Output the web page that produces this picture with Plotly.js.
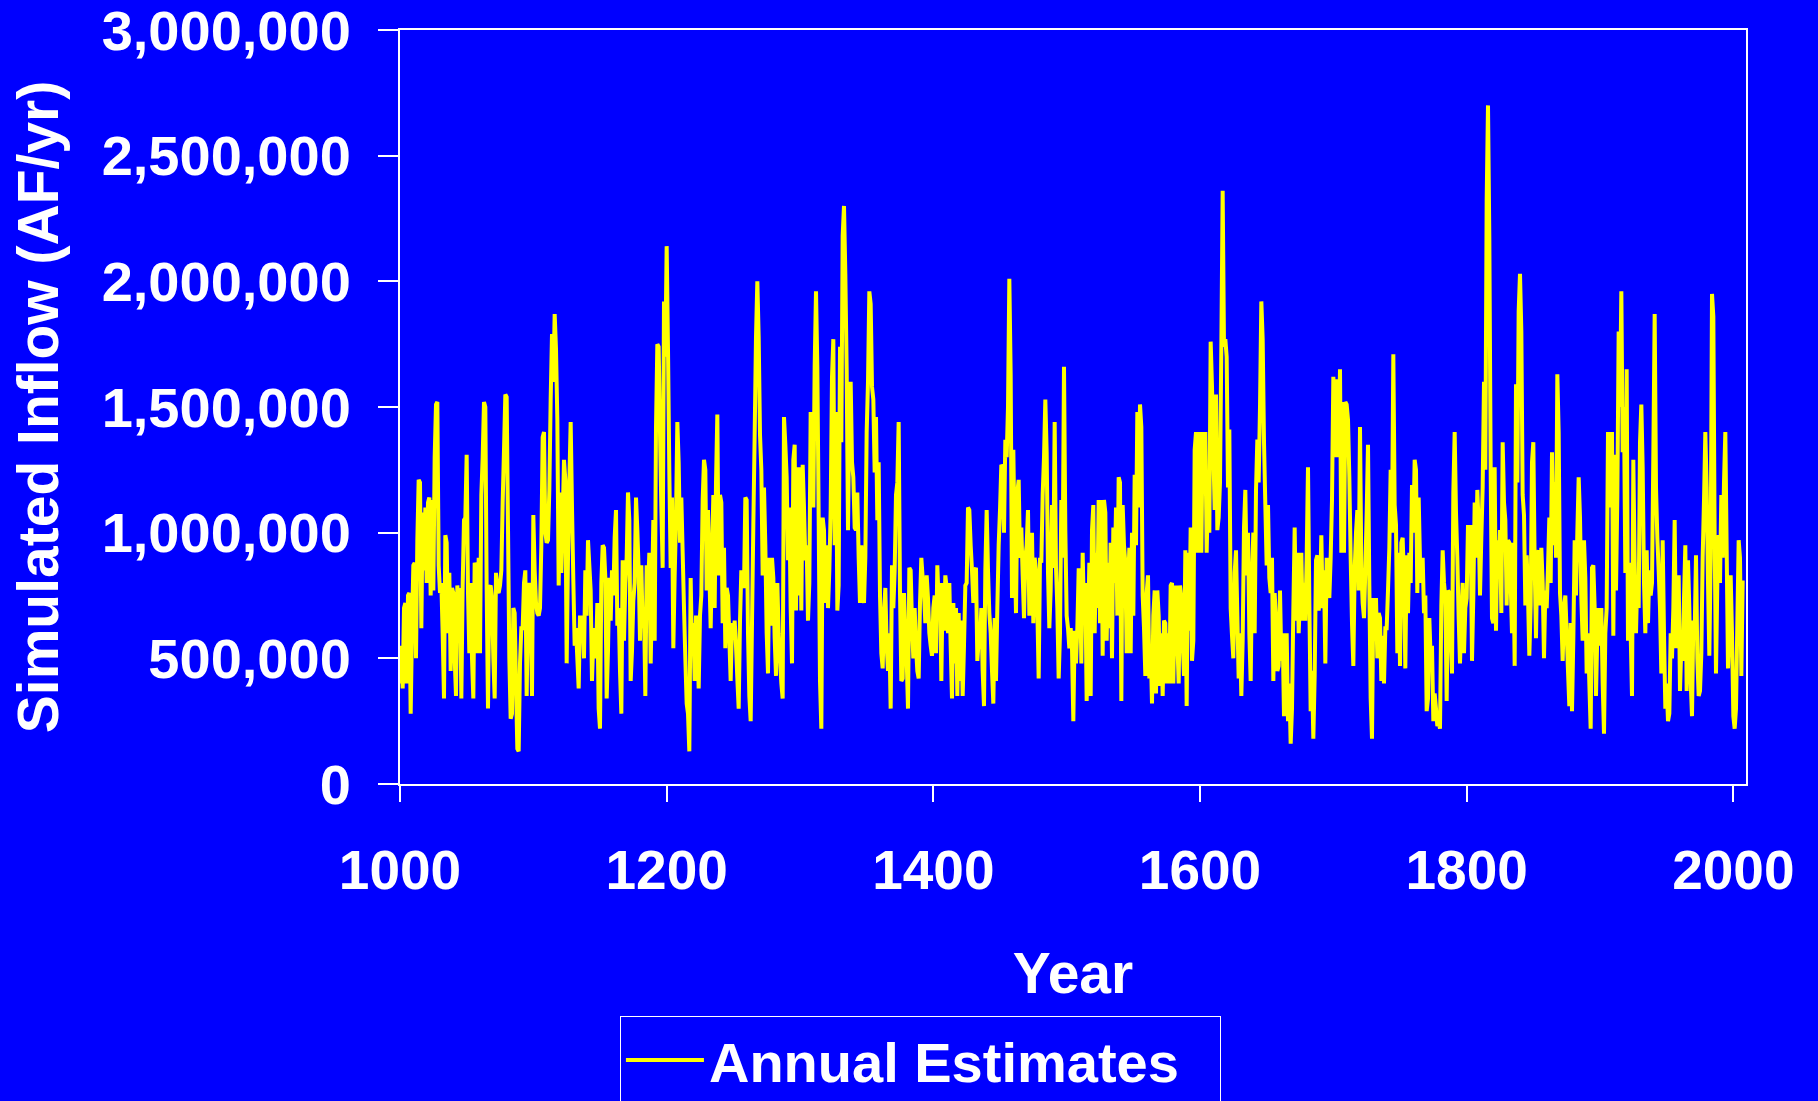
<!DOCTYPE html>
<html><head><meta charset="utf-8">
<script src="https://cdn.plot.ly/plotly-3.0.1.min.js"></script>
<style>html,body{margin:0;padding:0;background:#0000FF;}#chart{width:1818px;height:1101px;}</style>
</head><body><div id="chart"></div>
<script>
const startYear = 1000;
const flow1000s = [
400e3,550e3,380e3,700e3,720e3,400e3,750e3,760e3,280e3,620e3,
870e3,880e3,500e3,970e3,1210e3,1200e3,620e3,1080e3,850e3,1100e3,
800e3,1120e3,1140e3,750e3,1130e3,770e3,1300e3,1510e3,1520e3,870e3,
760e3,800e3,600e3,340e3,990e3,960e3,600e3,840e3,450e3,780e3,
760e3,500e3,350e3,790e3,660e3,780e3,340e3,790e3,1050e3,1060e3,
1310e3,760e3,520e3,800e3,500e3,340e3,880e3,860e3,520e3,900e3,
520e3,1150e3,1300e3,1520e3,1500e3,770e3,300e3,780e3,790e3,740e3,
500e3,340e3,840e3,770e3,760e3,790e3,850e3,1120e3,1330e3,1550e3,
1540e3,1020e3,500e3,260e3,280e3,700e3,680e3,400e3,140e3,130e3,
480e3,620e3,620e3,800e3,850e3,350e3,720e3,800e3,680e3,350e3];
const flow1100s = [
1070e3,850e3,720e3,680e3,670e3,700e3,950e3,1380e3,1400e3,1000e3,
960e3,970e3,1170e3,1530e3,1790e3,1600e3,1870e3,1730e3,1450e3,790e3,
1160e3,840e3,1050e3,1290e3,1210e3,480e3,900e3,1200e3,1440e3,1100e3,
810e3,550e3,620e3,500e3,380e3,670e3,620e3,670e3,500e3,850e3,
670e3,970e3,870e3,770e3,410e3,580e3,620e3,500e3,720e3,300e3,
220e3,800e3,950e3,940e3,820e3,340e3,530e3,820e3,650e3,850e3,
750e3,980e3,1090e3,630e3,700e3,450e3,280e3,890e3,570e3,800e3,
900e3,1160e3,1050e3,410e3,530e3,730e3,800e3,1140e3,1010e3,850e3,
570e3,870e3,620e3,700e3,350e3,870e3,760e3,920e3,480e3,750e3,
1050e3,570e3,1420e3,1750e3,1740e3,1400e3,1100e3,860e3,1920e3,1700e3];
const flow1200s = [
2140e3,1730e3,1240e3,860e3,1140e3,540e3,830e3,1050e3,1440e3,1280e3,
960e3,1140e3,920e3,700e3,500e3,320e3,280e3,130e3,820e3,510e3,
640e3,410e3,670e3,600e3,380e3,670e3,750e3,1130e3,1290e3,1250e3,
770e3,1090e3,850e3,620e3,900e3,1150e3,700e3,1200e3,1470e3,830e3,
1150e3,1120e3,640e3,940e3,540e3,780e3,750e3,580e3,410e3,640e3,
580e3,650e3,550e3,420e3,300e3,650e3,850e3,800e3,780e3,1140e3,
1130e3,600e3,350e3,250e3,640e3,1030e3,1390e3,1780e3,2000e3,1780e3,
1390e3,1250e3,830e3,1180e3,950e3,600e3,440e3,900e3,630e3,900e3,
820e3,580e3,430e3,800e3,600e3,500e3,400e3,340e3,1460e3,1350e3,
1220e3,890e3,1100e3,700e3,480e3,1290e3,1350e3,690e3,1260e3,750e3];
const flow1300s = [
1260e3,690e3,1270e3,1100e3,890e3,950e3,650e3,800e3,1480e3,1400e3,
1100e3,1660e3,1960e3,1660e3,1060e3,410e3,220e3,1060e3,1010e3,720e3,
950e3,700e3,850e3,1090e3,1620e3,1770e3,950e3,1480e3,690e3,790e3,
1740e3,1360e3,2180e3,2300e3,2030e3,1650e3,1010e3,1490e3,1600e3,1280e3,
1220e3,1020e3,1010e3,1160e3,900e3,720e3,950e3,820e3,720e3,900e3,
1400e3,1600e3,1960e3,1910e3,1580e3,1530e3,1240e3,1460e3,1050e3,1280e3,
750e3,520e3,460e3,680e3,780e3,550e3,450e3,600e3,300e3,870e3,
700e3,850e3,1150e3,1200e3,1440e3,760e3,410e3,420e3,760e3,590e3,
500e3,300e3,860e3,850e3,640e3,500e3,700e3,550e3,450e3,420e3,
720e3,900e3,820e3,760e3,640e3,830e3,740e3,600e3,550e3,510e3];
const flow1400s = [
700e3,750e3,520e3,870e3,720e3,800e3,410e3,800e3,610e3,830e3,
780e3,600e3,800e3,550e3,340e3,720e3,480e3,700e3,350e3,680e3,
410e3,650e3,350e3,550e3,790e3,800e3,1100e3,1090e3,950e3,850e3,
720e3,850e3,860e3,490e3,570e3,560e3,700e3,450e3,310e3,850e3,
1090e3,850e3,680e3,600e3,450e3,320e3,660e3,410e3,700e3,950e3,
1090e3,1270e3,1260e3,1000e3,1370e3,1300e3,1500e3,2010e3,1630e3,740e3,
1330e3,960e3,680e3,1160e3,1210e3,900e3,1020e3,830e3,660e3,900e3,
950e3,1090e3,670e3,950e3,1000e3,640e3,900e3,850e3,700e3,420e3,
900e3,880e3,1150e3,1300e3,1530e3,1320e3,840e3,620e3,770e3,1110e3,
860e3,1440e3,860e3,700e3,420e3,600e3,1130e3,900e3,1660e3,1010e3];
const flow1500s = [
670e3,620e3,540e3,620e3,540e3,250e3,610e3,480e3,620e3,850e3,
850e3,480e3,920e3,670e3,800e3,330e3,600e3,880e3,350e3,1010e3,
1110e3,600e3,920e3,700e3,1130e3,640e3,1130e3,510e3,1130e3,1080e3,
570e3,880e3,620e3,960e3,500e3,1020e3,800e3,1100e3,670e3,1220e3,
1200e3,330e3,1110e3,950e3,880e3,520e3,770e3,940e3,520e3,1000e3,
670e3,1230e3,950e3,1480e3,1100e3,1510e3,1420e3,750e3,620e3,430e3,
760e3,830e3,420e3,550e3,320e3,670e3,770e3,360e3,770e3,670e3,
390e3,600e3,350e3,650e3,640e3,400e3,600e3,400e3,790e3,800e3,
400e3,740e3,790e3,570e3,400e3,790e3,740e3,570e3,430e3,930e3,
310e3,920e3,610e3,1020e3,490e3,570e3,1330e3,1400e3,920e3,1260e3];
const flow1600s = [
1400e3,920e3,1400e3,1260e3,1400e3,920e3,1180e3,1000e3,1760e3,1580e3,
1330e3,1090e3,1550e3,1010e3,1060e3,1200e3,1740e3,2360e3,1740e3,1770e3,
1700e3,1180e3,1410e3,700e3,590e3,500e3,840e3,930e3,670e3,420e3,
600e3,350e3,570e3,1020e3,1170e3,830e3,1000e3,600e3,410e3,830e3,
1000e3,600e3,1170e3,1370e3,1200e3,1500e3,1920e3,1770e3,1360e3,1110e3,
870e3,1110e3,820e3,760e3,900e3,410e3,760e3,650e3,450e3,470e3,
770e3,490e3,600e3,270e3,450e3,600e3,250e3,400e3,160e3,300e3,
690e3,1020e3,650e3,920e3,600e3,750e3,920e3,650e3,800e3,650e3,
900e3,1260e3,730e3,290e3,450e3,180e3,430e3,890e3,910e3,690e3,
750e3,990e3,700e3,850e3,480e3,900e3,800e3,740e3,900e3,1130e3];
const flow1700s = [
1620e3,1500e3,1300e3,1610e3,1300e3,1650e3,920e3,1520e3,920e3,1520e3,
1510e3,1450e3,1220e3,900e3,640e3,470e3,850e3,1000e3,1090e3,770e3,
1420e3,860e3,720e3,660e3,850e3,1080e3,1350e3,790e3,340e3,180e3,
740e3,580e3,740e3,500e3,680e3,660e3,410e3,590e3,400e3,620e3,
620e3,770e3,940e3,1250e3,1000e3,1710e3,1110e3,1030e3,520e3,920e3,
470e3,960e3,980e3,800e3,460e3,910e3,680e3,920e3,800e3,1190e3,
1000e3,1290e3,1250e3,760e3,1140e3,890e3,800e3,900e3,680e3,750e3,
290e3,340e3,660e3,500e3,550e3,250e3,360e3,300e3,230e3,250e3,
220e3,710e3,930e3,800e3,740e3,330e3,770e3,760e3,600e3,440e3,
1160e3,1400e3,1080e3,900e3,660e3,480e3,660e3,800e3,520e3,700e3];
const flow1800s = [
740e3,1030e3,900e3,1030e3,490e3,750e3,1120e3,900e3,1170e3,1030e3,
750e3,980e3,1180e3,1600e3,1250e3,2320e3,2700e3,2170e3,1250e3,660e3,
640e3,1260e3,610e3,970e3,820e3,1010e3,680e3,1360e3,1120e3,1050e3,
710e3,970e3,960e3,800e3,600e3,960e3,470e3,1590e3,1200e3,1880e3,
2030e3,1800e3,1150e3,1070e3,710e3,910e3,750e3,510e3,710e3,1280e3,
1360e3,870e3,580e3,910e3,930e3,710e3,940e3,800e3,500e3,770e3,
700e3,860e3,1060e3,800e3,1320e3,950e3,1200e3,900e3,1630e3,1400e3,
760e3,670e3,490e3,700e3,750e3,600e3,450e3,310e3,640e3,290e3,
580e3,970e3,750e3,1000e3,1220e3,1060e3,740e3,570e3,970e3,820e3,
440e3,600e3,400e3,220e3,860e3,870e3,700e3,350e3,600e3,700e3];
const flow1900s = [
550e3,700e3,400e3,200e3,600e3,700e3,1400e3,1350e3,1100e3,1400e3,
590e3,1310e3,770e3,1140e3,1800e3,1500e3,1960e3,1320e3,1500e3,840e3,
1650e3,570e3,880e3,600e3,350e3,1290e3,880e3,600e3,830e3,700e3,
1360e3,1510e3,1260e3,800e3,600e3,930e3,640e3,850e3,750e3,800e3,
1310e3,1870e3,1180e3,980e3,850e3,700e3,440e3,970e3,600e3,300e3,
400e3,250e3,280e3,600e3,500e3,700e3,1050e3,540e3,700e3,830e3,
370e3,550e3,490e3,740e3,950e3,370e3,890e3,700e3,410e3,270e3,
650e3,600e3,910e3,500e3,350e3,370e3,520e3,900e3,1130e3,1400e3,
1180e3,800e3,510e3,900e3,1950e3,1860e3,960e3,440e3,800e3,990e3,
800e3,1150e3,900e3,1200e3,1400e3,930e3,460e3,630e3,830e3,600e3];
const flow2000s = [270e3,220e3,300e3,640e3,970e3,900e3,430e3,810e3];

const xTickVals = [1000, 1200, 1400, 1600, 1800, 2000];
const xTickText = ['1000', '1200', '1400', '1600', '1800', '2000'];
const yTickVals = [0, 500000, 1000000, 1500000, 2000000, 2500000, 3000000];
const yTickText = ['0', '500,000', '1,000,000', '1,500,000', '2,000,000', '2,500,000', '3,000,000'];
const seriesName = 'Annual Estimates';
const xTitle = 'Year';
const yTitle = 'Simulated Inflow (AF/yr)';

const flow = [].concat(flow1000s, flow1100s, flow1200s, flow1300s, flow1400s,
  flow1500s, flow1600s, flow1700s, flow1800s, flow1900s, flow2000s);

const FAM = '"Liberation Sans", Arial, sans-serif';
const WHITE = '#FFFFFF';
const BLUE = '#0000FF';
const f = (s) => ({family: FAM, size: s, color: WHITE, weight: 'bold'});

const trace = {
  type: 'scatter', mode: 'lines', name: seriesName,
  x0: startYear, dx: 1, y: flow,
  line: {color: '#FFFF00', width: 4, simplify: false},
  showlegend: true, hoverinfo: 'skip'
};

const layout = {
  width: 1818, height: 1101,
  paper_bgcolor: BLUE, plot_bgcolor: BLUE,
  margin: {l: 400, r: 72, t: 30, b: 317, pad: 0, autoexpand: false},
  font: f(56),
  showlegend: true,
  xaxis: {
    range: [1000, 2009.5], tickmode: 'array', tickvals: xTickVals, ticktext: xTickText,
    ticks: 'outside', ticklen: 16, tickwidth: 2, tickcolor: WHITE,
    showline: true, linecolor: WHITE, linewidth: 2, mirror: true,
    showgrid: false, zeroline: false, tickfont: f(55), ticklabelstandoff: 21,
    title: {text: xTitle, font: f(57), standoff: 53}, automargin: false
  },
  yaxis: {
    range: [0, 3000000], tickmode: 'array', tickvals: yTickVals, ticktext: yTickText,
    ticks: 'outside', ticklen: 20, tickwidth: 2, tickcolor: WHITE,
    showline: true, linecolor: WHITE, linewidth: 2, mirror: true,
    showgrid: false, zeroline: false, tickfont: f(56), ticklabelstandoff: 16,
    ticklabeloverflow: 'allow',
    title: {text: yTitle, font: f(57), standoff: 25}, automargin: false
  },
  legend: {
    x: 0.1634, y: -0.3077, xanchor: 'left', yanchor: 'top',
    orientation: 'h', entrywidth: 506, entrywidthmode: 'pixels',
    bgcolor: BLUE, bordercolor: WHITE, borderwidth: 1,
    font: f(56), itemwidth: 78
  }
};

Plotly.newPlot('chart', [trace], layout, {staticPlot: true, displayModeBar: false});
</script>
</body></html>
